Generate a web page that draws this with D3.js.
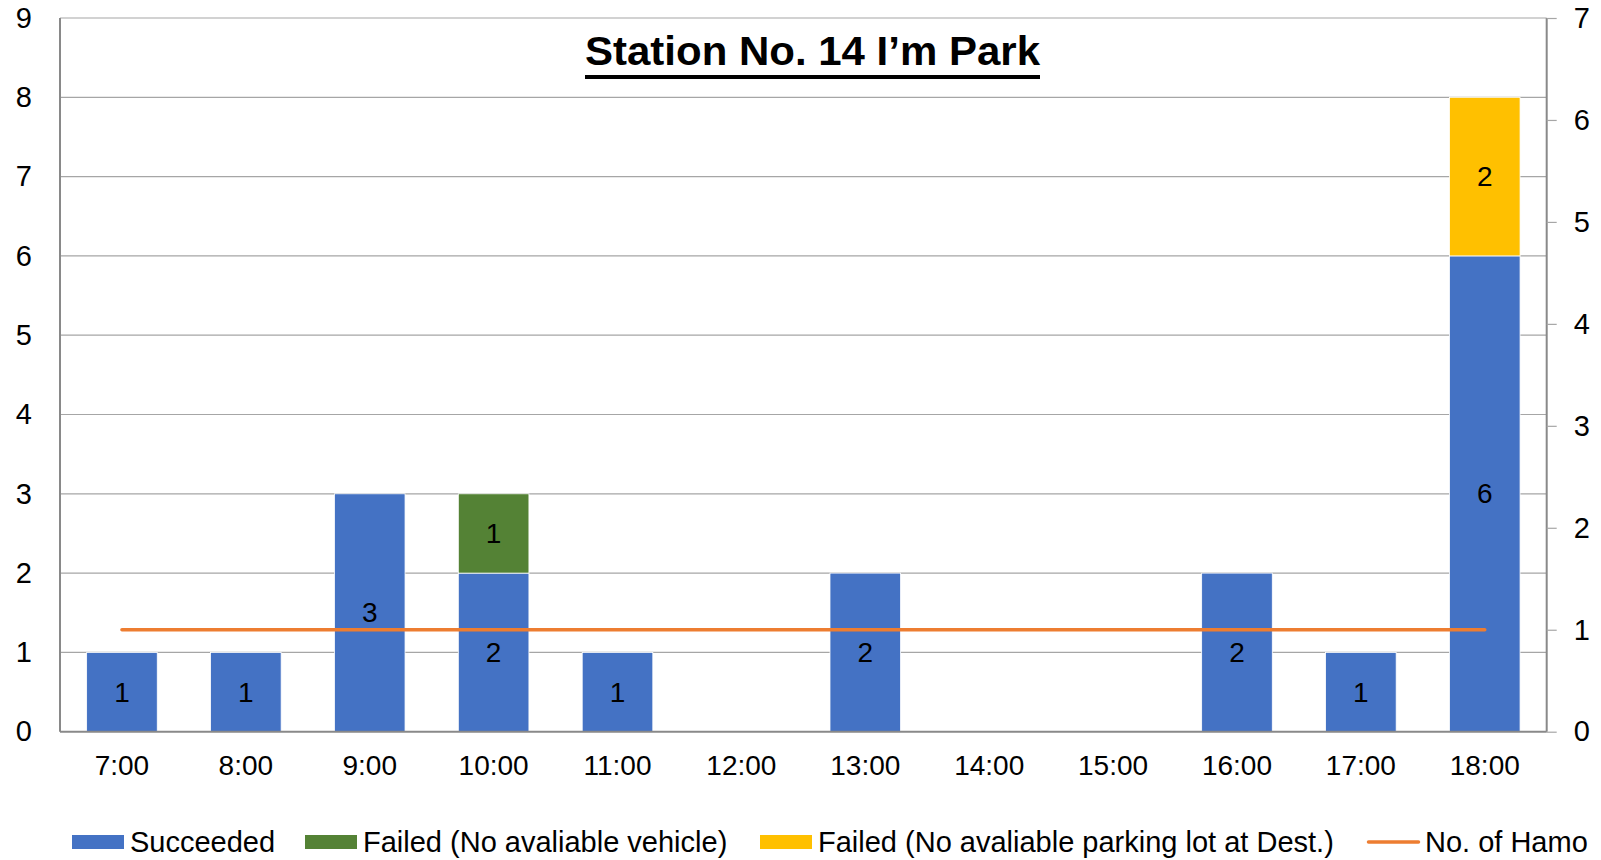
<!DOCTYPE html>
<html><head><meta charset="utf-8">
<script src="https://cdn.jsdelivr.net/npm/d3@7/dist/d3.min.js"></script>
<style>
html,body{margin:0;padding:0;background:#fff;}
svg{display:block;}
text{font-family:"Liberation Sans",Arial,sans-serif;fill:#000;}
</style></head>
<body>
<svg id="c" width="1601" height="860"></svg>
<script>
const categories = ["7:00","8:00","9:00","10:00","11:00","12:00","13:00","14:00","15:00","16:00","17:00","18:00"];
const succeeded = [1,1,3,2,1,0,2,0,0,2,1,6];
const failedVehicle = [0,0,0,1,0,0,0,0,0,0,0,0];
const failedParking = [0,0,0,0,0,0,0,0,0,0,0,2];
const noOfHamo = [1,1,1,1,1,1,1,1,1,1,1,1];
const leftTicks = [0,1,2,3,4,5,6,7,8,9];
const rightTicks = [0,1,2,3,4,5,6,7];
const seriesNames = ["Succeeded","Failed (No avaliable vehicle)","Failed (No avaliable parking lot at Dest.)","No. of Hamo"];
const colors = ["#4472C4","#548235","#FFC000","#ED7D31"];
const title = "Station No. 14 I\u2019m Park";

const svg = d3.select("#c");
const L = 60, R = 1546.7, T = 18, B = 731.7;

const x = d3.scaleBand().domain(categories).range([L, R]).paddingInner(0.43).paddingOuter(0.215);
const yL = d3.scaleLinear().domain([0, 9]).range([B, T]);
const yR = d3.scaleLinear().domain([0, 7]).range([B, T]);

// gridlines
svg.append("g").selectAll("line").data(leftTicks.filter(d => d > 0)).join("line")
  .attr("x1", L).attr("x2", R).attr("y1", d => yL(d)).attr("y2", d => yL(d))
  .attr("stroke", "#a6a6a6").attr("stroke-width", 1.2);

// stacked bars
const table = categories.map((c, i) => ({cat: c, s: succeeded[i], v: failedVehicle[i], p: failedParking[i]}));
const keys = ["s","v","p"];
const stack = d3.stack().keys(keys)(table);
const gBars = svg.append("g");
stack.forEach((layer, k) => {
  gBars.append("g").selectAll("rect").data(layer.filter(d => d[1] - d[0] > 0)).join("rect")
    .attr("x", d => x(d.data.cat)).attr("width", x.bandwidth())
    .attr("y", d => yL(d[1])).attr("height", d => yL(d[0]) - yL(d[1]))
    .attr("fill", colors[k]).attr("stroke", "#fff").attr("stroke-width", 0.8);
});

// axes
const axL = svg.append("g").attr("transform", `translate(${L},0)`)
  .call(d3.axisLeft(yL).tickValues(leftTicks).tickSize(0).tickPadding(28).tickFormat(d3.format("d")));
axL.select(".domain").attr("stroke", "#898989").attr("stroke-width", 2).attr("d", `M0,${T}V${B}`);
axL.selectAll("text").attr("font-size", 29).attr("font-family", '"Liberation Sans",Arial,sans-serif').attr("fill", "#000");

const axR = svg.append("g").attr("transform", `translate(${R},0)`)
  .call(d3.axisRight(yR).tickValues(rightTicks).tickSize(10).tickPadding(17).tickFormat(d3.format("d")));
axR.select(".domain").attr("stroke", "#898989").attr("stroke-width", 2).attr("d", `M0,${T}V${B}`);
axR.selectAll(".tick line").attr("stroke", "#a6a6a6").attr("stroke-width", 1.2);
axR.selectAll("text").attr("font-size", 29).attr("font-family", '"Liberation Sans",Arial,sans-serif').attr("fill", "#000");

const axB = svg.append("g").attr("transform", `translate(0,${B})`)
  .call(d3.axisBottom(x).tickSize(0).tickPadding(23));
axB.select(".domain").attr("stroke", "#898989").attr("stroke-width", 2).attr("d", `M${L},0H${R}`);
axB.selectAll("text").attr("font-size", 28).attr("font-family", '"Liberation Sans",Arial,sans-serif').attr("fill", "#000");

// line
const line = d3.line().x((d, i) => x(categories[i]) + x.bandwidth() / 2).y(d => yR(d));
svg.append("path").datum(noOfHamo).attr("d", line).attr("fill", "none")
  .attr("stroke", colors[3]).attr("stroke-width", 3.5).attr("stroke-linecap", "round");

// value labels
const gLab = svg.append("g");
stack.forEach((layer) => {
  gLab.append("g").selectAll("text").data(layer.filter(d => d[1] - d[0] > 0)).join("text")
    .attr("x", d => x(d.data.cat) + x.bandwidth() / 2)
    .attr("y", d => yL((d[0] + d[1]) / 2))
    .attr("text-anchor", "middle").attr("dominant-baseline", "central")
    .attr("font-size", 28).text(d => d[1] - d[0]);
});

// title
const tt = svg.append("text").attr("x", 812.5).attr("y", 65).attr("text-anchor", "middle")
  .attr("font-family", "Lato, 'Open Sans', sans-serif").attr("font-weight", "bold")
  .attr("font-size", 40).attr("textLength", 455).attr("lengthAdjust", "spacingAndGlyphs").text(title);
svg.append("rect").attr("x", 585).attr("width", 455).attr("y", 75).attr("height", 4).attr("fill", "#000");

// legend
const legend = [
  {name: seriesNames[0], color: colors[0], type: "rect", sx: 72, sw: 52, tx: 130},
  {name: seriesNames[1], color: colors[1], type: "rect", sx: 305, sw: 52, tx: 363},
  {name: seriesNames[2], color: colors[2], type: "rect", sx: 760, sw: 52, tx: 818},
  {name: seriesNames[3], color: colors[3], type: "line", sx: 1367, sw: 53, tx: 1425}
];
const gLeg = svg.append("g");
legend.forEach(l => {
  if (l.type === "rect") {
    gLeg.append("rect").attr("x", l.sx).attr("y", 835).attr("width", l.sw).attr("height", 14).attr("fill", l.color);
  } else {
    gLeg.append("line").attr("x1", l.sx + 1.5).attr("x2", l.sx + l.sw - 1.5).attr("y1", 842).attr("y2", 842)
      .attr("stroke", l.color).attr("stroke-width", 3.5).attr("stroke-linecap", "round");
  }
  gLeg.append("text").attr("x", l.tx).attr("y", 851.5)
    .attr("font-size", 29).text(l.name);
});
</script>
</body></html>
